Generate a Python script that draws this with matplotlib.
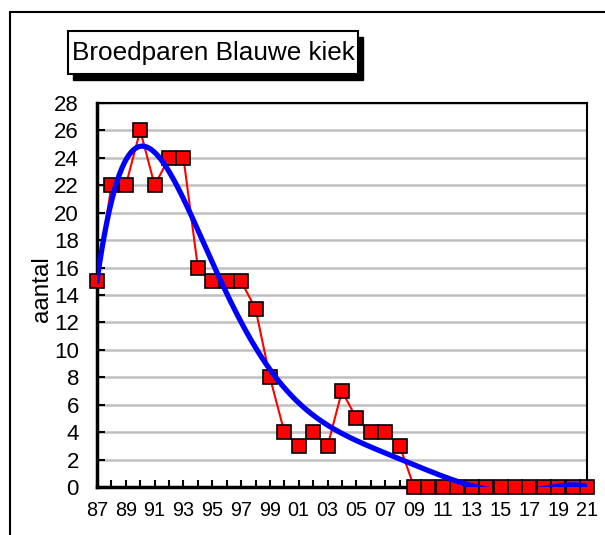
import matplotlib.pyplot as plt
import numpy as np
from matplotlib.patches import Rectangle

plt.rcParams['font.family'] = ['Liberation Sans', 'DejaVu Sans']

jaren = np.arange(1987, 2022)
aantal = [15, 22, 22, 26, 22, 24, 24, 16, 15, 15, 15, 13, 8, 4, 3, 4, 3, 7, 5, 4, 4, 3,
          0, 0, 0, 0, 0, 0, 0, 0, 0, 0, 0, 0, 0]
xlabels = [str(j)[-2:] for j in jaren[::2]]

fig = plt.figure(figsize=(6.05, 5.35), dpi=100)
ax = fig.add_axes([97 / 605, 48 / 535, 490 / 605, 384 / 535])

# trendlijn: polynoom 6e orde zoals in Excel
t = np.arange(1, len(jaren) + 1)
coef = np.polyfit(t, aantal, 6)
tt = np.linspace(1, len(jaren), 400)
ax.plot(1986 + tt, np.polyval(coef, tt), color='#0000ff', lw=3.8, zorder=4)

ax.plot(jaren, aantal, color='#ff0000', lw=1.5, marker='s', ms=10,
        mfc='#ff0000', mec='black', mew=1.2, clip_on=False, zorder=3)

ax.set_xlim(1987, 2021)
ax.set_ylim(0, 28)
ax.set_yticks(range(0, 29, 2))
ax.set_xticks(jaren[::2])
ax.set_xticklabels(xlabels)
ax.set_xticks(jaren, minor=True)
ax.grid(axis='y', color='#c0c0c0', lw=1.8, zorder=0)
ax.set_axisbelow(True)
ax.tick_params(axis='y', direction='in', length=6, width=1.5, labelsize=16, pad=13)
ax.tick_params(axis='x', which='both', direction='in', length=5, width=1.5,
               labelsize=14.3, pad=10)
for s in ax.spines.values():
    s.set_linewidth(1.5)
ax.spines['left'].set_linewidth(2.5)
ax.spines['bottom'].set_linewidth(2.5)

fig.text(42 / 605, 1 - 289 / 535, 'aantal', rotation=90, fontsize=17.5,
         ha='center', va='center')

# titel met schaduwkader
fig.patches.append(Rectangle((73 / 605, 1 - 80 / 535), 290 / 605, 43 / 535,
                             transform=fig.transFigure, fc='black', ec='black', zorder=1))
fig.patches.append(Rectangle((68 / 605, 1 - 74 / 535), 290 / 605, 43 / 535,
                             transform=fig.transFigure, fc='white', ec='black',
                             lw=1.5, zorder=2))
fig.text(213 / 605, 1 - 53 / 535, 'Broedparen Blauwe kiek', fontsize=18.8,
         ha='center', va='center', zorder=3)

# buitenkader
fig.patches.append(Rectangle((10 / 605, -0.05), 1.0, 1 - 12 / 535 + 0.05,
                             transform=fig.transFigure, fill=False, ec='black',
                             lw=1.5, zorder=0))

fig.savefig('out.png', dpi=100)
